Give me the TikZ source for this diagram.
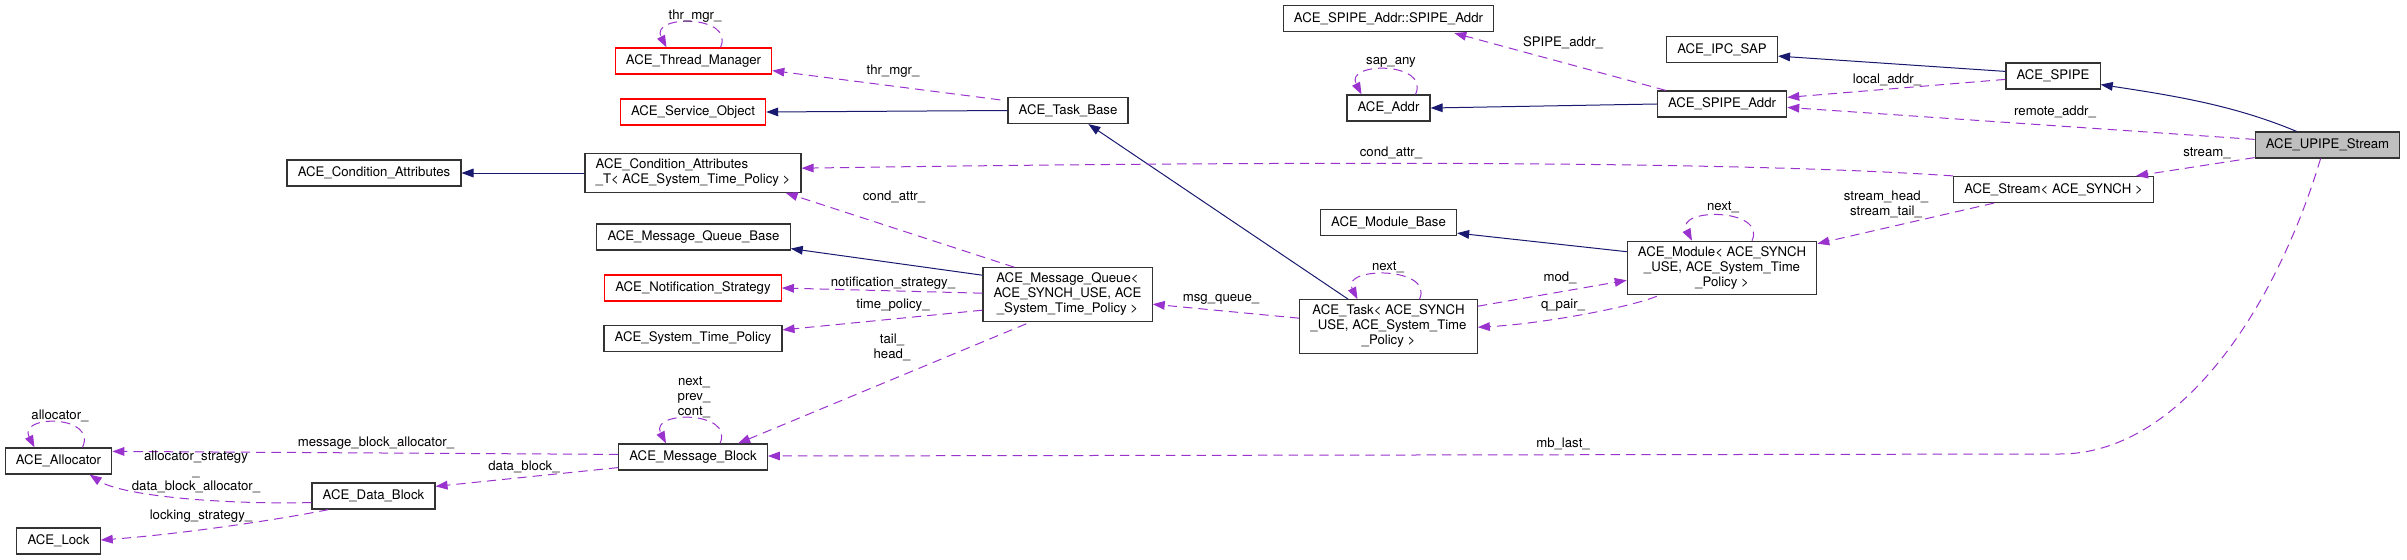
\documentclass[tikz,border=0pt]{standalone}
\usepackage{fontspec}
\setmainfont{TeX Gyre Heros}
\usetikzlibrary{arrows.meta,calc}
\definecolor{inhblue}{HTML}{191970}
\definecolor{usepurple}{HTML}{9A32CD}
\definecolor{mainfill}{HTML}{BFBFBF}
\tikzset{
    classbox/.style={draw=black!80, line width=0.9pt, fill=white, inner xsep=8pt, inner ysep=4pt,
        minimum height=19.5pt, align=center, font=\fontsize{9.9}{11.25}\selectfont},
    redbox/.style={classbox, draw=red},
    inherit/.style={draw=inhblue, line width=0.75pt, -{Triangle[length=9pt,width=6.5pt]}},
    member/.style={draw=usepurple, line width=0.75pt, dash pattern=on 7pt off 4.5pt,
        -{Triangle[length=9pt,width=6.5pt]}, fill=none},
    edgelabel/.style={inner sep=0pt, align=center, font=\fontsize{9.9}{11.25}\selectfont}
}

\begin{document}
\begin{tikzpicture}[x=0.75pt,y=-0.75pt]
    \useasboundingbox (0,0) rectangle (2407,560);

    % Draw class boxes.
    \node[classbox] (condattr) at (374,173) {ACE\_Condition\_Attributes};
    \node[redbox] (thrmgr) at (693.5,61) {ACE\_Thread\_Manager};
    \node[redbox] (svcobj) at (693,112) {ACE\_Service\_Object};
    \node[classbox, align=left] (condattrT) at (693,173) {ACE\_Condition\_Attributes\\\_T< ACE\_System\_Time\_Policy >};
    \node[classbox] (mqbase) at (693.5,237) {ACE\_Message\_Queue\_Base};
    \node[redbox] (notif) at (693,288) {ACE\_Notification\_Strategy};
    \node[classbox] (stp) at (693,338.5) {ACE\_System\_Time\_Policy};
    \node[classbox] (mblock) at (693,457) {ACE\_Message\_Block};
    \node[classbox] (alloc) at (58.5,461) {ACE\_Allocator};
    \node[classbox] (dblock) at (373.5,496) {ACE\_Data\_Block};
    \node[classbox] (lock) at (58.5,541) {ACE\_Lock};
    \node[classbox] (taskbase) at (1068,110.5) {ACE\_Task\_Base};
    \node[classbox] (mqueue) at (1067.5,294.5) {ACE\_Message\_Queue<\\ACE\_SYNCH\_USE, ACE\\\_System\_Time\_Policy >};
    \node[classbox] (task) at (1388.5,326.5) {ACE\_Task< ACE\_SYNCH\\\_USE, ACE\_System\_Time\\\_Policy >};
    \node[classbox] (spipeaddrsub) at (1388.5,18.5) {ACE\_SPIPE\_Addr::SPIPE\_Addr};
    \node[classbox] (addr) at (1388.5,108) {ACE\_Addr};
    \node[classbox] (modbase) at (1388.5,222.5) {ACE\_Module\_Base};
    \node[classbox] (ipcsap) at (1722,49.5) {ACE\_IPC\_SAP};
    \node[classbox] (spipeaddr) at (1722,104) {ACE\_SPIPE\_Addr};
    \node[classbox] (module) at (1722,268) {ACE\_Module< ACE\_SYNCH\\\_USE, ACE\_System\_Time\\\_Policy >};
    \node[classbox] (stream) at (2053.5,189.5) {ACE\_Stream< ACE\_SYNCH >};
    \node[classbox] (spipe) at (2053,76) {ACE\_SPIPE};
    \node[classbox, fill=mainfill] (upipe) at (2327.5,145) {ACE\_UPIPE\_Stream};

    % Draw inheritance.
    \draw[inherit] (condattrT.west) -- (condattr.east);
    \draw[inherit] (taskbase.west) -- (svcobj.east);
    \draw[inherit] ($(mqueue.north west)+(0,8)$) -- ($(mqbase.south east)+(0,-2)$);
    \draw[inherit] ($(task.north west)+(49,0)$) -- ($(taskbase.south west)+(81,0)$);
    \draw[inherit] (spipeaddr.west) -- (addr.east);
    \draw[inherit] ($(module.north west)+(0,11)$) -- ($(modbase.south east)+(0,-3)$);
    \draw[inherit] ($(spipe.north west)+(0,9)$) -- ($(ipcsap.south east)+(0,-7)$);
    \draw[inherit] ($(upipe.north west)+(42,0)$) .. controls +(-60,-25) and +(80,12) .. ($(spipe.south east)+(0,-5)$);

    % Draw members.
    \draw[member] ($(taskbase.north west)+(-7,3)$) -- ($(thrmgr.south east)+(0,-4)$);
    \draw[member] (stream.north west) .. controls +(-250,-17) and +(400,-6) .. ($(condattrT.north east)+(0,15)$);
    \draw[member] ($(mqueue.north west)+(32,0)$) -- ($(condattrT.south east)+(-16,0)$);
    \draw[member] ($(mqueue.north west)+(0,26)$) -- (notif.east);
    \draw[member] ($(mqueue.north west)+(0,43)$) -- ($(stp.north east)+(0,5)$);
    \draw[member] ($(mqueue.south west)+(44,2)$) -- ($(mblock.north west)+(120,0)$);
    \draw[member] ($(mblock.north west)+(0,11)$) -- ($(alloc.north east)+(0,4)$);
    \draw[member] ($(mblock.south west)+(0,-3)$) -- ($(dblock.north east)+(0,4)$);
    \draw[member] ($(dblock.south west)+(0,-7)$) .. controls +(-100,2) and +(30,20) .. ($(alloc.south west)+(85,0)$);
    \draw[member] ($(dblock.south west)+(17,0)$) .. controls +(-60,12) and +(70,-5) .. ($(lock.east)+(0,-1)$);
    \draw[member] ($(task.north west)+(0,19)$) -- ($(mqueue.north east)+(0,37)$);
    \draw[member] ($(task.north east)+(0,7)$) -- ($(module.south west)+(0,-15)$);
    \draw[member] ($(module.south west)+(30,1)$) .. controls +(-30,12) and +(60,-3) .. ($(task.north east)+(0,28)$);
    \draw[member] ($(stream.south west)+(41,0)$) -- ($(module.north east)+(0,3)$);
    \draw[member] ($(spipeaddr.north west)+(9,0)$) -- ($(spipeaddrsub.south east)+(-40,1)$);
    \draw[member] ($(spipe.north west)+(0,17)$) -- ($(spipeaddr.north east)+(0,7)$);
    \draw[member] ($(upipe.north west)+(0,8)$) -- ($(spipeaddr.north east)+(0,17)$);
    \draw[member] ($(upipe.south west)+(0,-1)$) -- ($(stream.north east)+(-18,0)$);
    \draw[member] ($(upipe.south west)+(66,0)$) .. controls +(-45,150) and +(120,0) .. ($(mblock.east)+(1292,-3)$) -- ($(mblock.east)+(0,-1)$);

    % Draw self loops.
    \foreach \n/\w in {thrmgr/27,mblock/27,alloc/24,task/31,module/30,addr/27}
        \draw[member] ($(\n.north)+(\w,0)$) .. controls +(15,-33) and +(-17,-33) .. ($(\n.north)+(-\w,0)$);

    % Draw member labels.
    \node[edgelabel] (lthr) at (695,16) {thr\_mgr\_};
    \node[edgelabel] (lthrtb) at (893,71) {thr\_mgr\_};
    \node[edgelabel] (lcondst) at (1391,153) {cond\_attr\_};
    \node[edgelabel] (lcondmq) at (894,197) {cond\_attr\_};
    \node[edgelabel] (lnotif) at (893,283) {notification\_strategy\_};
    \node[edgelabel] (ltime) at (893,305) {time\_policy\_};
    \node[edgelabel] (lhead) at (892,347) {tail\_\\head\_};
    \node[edgelabel] (lnextmb) at (694,397) {next\_\\prev\_\\cont\_};
    \node[edgelabel] (lmballoc) at (376,443) {message\_block\_allocator\_};
    \node[edgelabel] (ldblock) at (524,467) {data\_block\_};
    \node[edgelabel] (lalstr) at (196,472) {allocator\_strategy\\\_\\data\_block\_allocator\_};
    \node[edgelabel] (llock) at (201,516) {locking\_strategy\_};
    \node[edgelabel] (lalloc) at (60,416) {allocator\_};
    \node[edgelabel] (lmsgq) at (1221,299) {msg\_queue\_};
    \node[edgelabel] (lnexttk) at (1388,267) {next\_};
    \node[edgelabel] (lmod) at (1560,278) {mod\_};
    \node[edgelabel] (lqpair) at (1563,305) {q\_pair\_};
    \node[edgelabel] (lnextmd) at (1723,207) {next\_};
    \node[edgelabel] (lstrhd) at (1886,204) {stream\_head\_\\stream\_tail\_};
    \node[edgelabel] (lspipe) at (1563,43) {SPIPE\_addr\_};
    \node[edgelabel] (lsap) at (1391,62) {sap\_any};
    \node[edgelabel] (llocal) at (1887,80) {local\_addr\_};
    \node[edgelabel] (lremote) at (2055,112) {remote\_addr\_};
    \node[edgelabel] (lstream) at (2207,153) {stream\_};
    \node[edgelabel] (lmblast) at (1563,444) {mb\_last\_};
\end{tikzpicture}
\end{document}
